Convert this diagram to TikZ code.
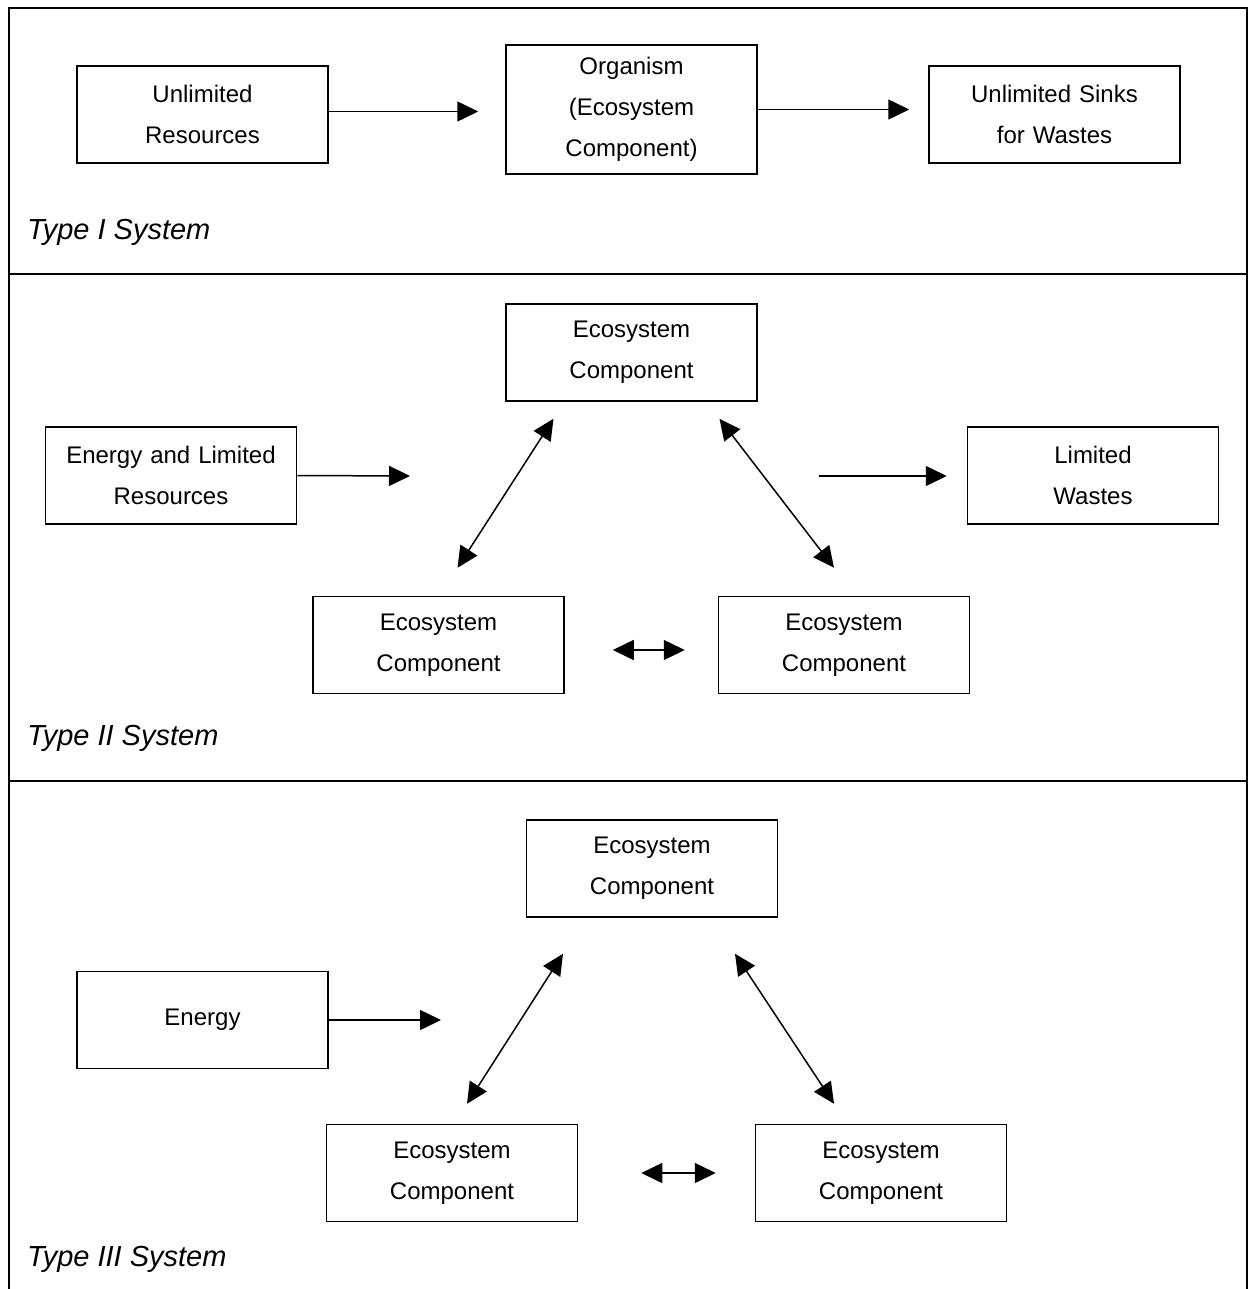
\documentclass[tikz,border=0pt]{standalone}
\usepackage{fontspec}
\setmainfont{Liberation Sans}
\usetikzlibrary{arrows.meta, calc}

\tikzset{
  box/.style={draw, line width=1.5pt, minimum width=251pt, minimum height=97pt,
    text width=245pt, align=center, inner sep=0pt,
    font=\fontsize{24}{41}\selectfont},
  flow/.style={line width=1.5pt, -{Triangle[length=21pt,width=20pt]}},
  dflow/.style={line width=1.5pt, {Triangle[length=21pt,width=20pt]}-{Triangle[length=21pt,width=20pt]}},
  frame/.style={line width=2pt},
  syslabel/.style={anchor=west, inner sep=0pt, font=\fontsize{29}{35}\selectfont\itshape}
}

\begin{document}
\begin{tikzpicture}[x=1pt,y=-1pt]
            \useasboundingbox (0,0) rectangle (1249,1289);
            % Draw the frame and the separators
            \draw[frame] (9,1289) -- (9,8) -- (1247,8) -- (1247,1289);
            \draw[frame] (9,274) -- (1247,274);
            \draw[frame] (9,781) -- (1247,781);

            % Type I
            \node[box] (res) at (202.5,114.5) {Unlimited\\Resources};
            \node[box, minimum height=129pt] (org) at (631.5,109.5) {Organism\\(Ecosystem\\Component)};
            \node[box] (sink) at (1054.5,114.5) {Unlimited Sinks\\for Wastes};
            \coordinate (outI) at ($(res.east)+(0,-3)$);
            \draw[flow, shorten >=27pt] (outI) -- (outI -| org.west);
            \draw[flow, shorten >=19pt] (org.east) -- (org.east -| sink.west);
            \node[syslabel] (labI) at (27,232) {Type I System};

            % Type II
            \node[box] (ecA) at (631.5,352.5) {Ecosystem\\Component};
            \node[box] (limres) at (171,475.5) {Energy and Limited\\Resources};
            \node[box] (waste) at (1093,475.5) {Limited\\Wastes};
            \node[box] (ecB) at (438.5,645) {Ecosystem\\Component};
            \node[box] (ecC) at (844,645) {Ecosystem\\Component};
            \coordinate (inII) at (410,476);
            \coordinate (outII) at (819,476);
            \draw[flow] (limres.east) -- (inII);
            \draw[flow, shorten >=20pt] (outII) -- (outII -| waste.west);
            \draw[dflow] ($(ecA.south)+(-78,17)$) -- ($(ecB.north)+(19,-28)$);
            \draw[dflow] ($(ecA.south)+(88,17)$) -- ($(ecC.north)+(-10,-28)$);
            \draw[dflow, shorten <=48pt, shorten >=33pt] ($(ecB.east)+(0,5)$) -- ($(ecC.west)+(0,5)$);
            \node[syslabel] (labII) at (27,738) {Type II System};

            % Type III
            \node[box] (ecD) at (652,868.5) {Ecosystem\\Component};
            \node[box] (energy) at (202.5,1020) {Energy};
            \node[box] (ecE) at (452,1173) {Ecosystem\\Component};
            \node[box] (ecF) at (881,1173) {Ecosystem\\Component};
            \coordinate (inIII) at (441,1020);
            \draw[flow] (energy.east) -- (inIII);
            \draw[dflow] ($(ecD.south)+(-89,36)$) -- ($(ecE.north)+(15,-20)$);
            \draw[dflow] ($(ecD.south)+(83,36)$) -- ($(ecF.north)+(-47,-20)$);
            \draw[dflow, shorten <=63pt, shorten >=39pt] (ecE.east) -- (ecF.west);
            \node[syslabel] (labIII) at (27,1259) {Type III System};
        \end{tikzpicture}
\end{document}
